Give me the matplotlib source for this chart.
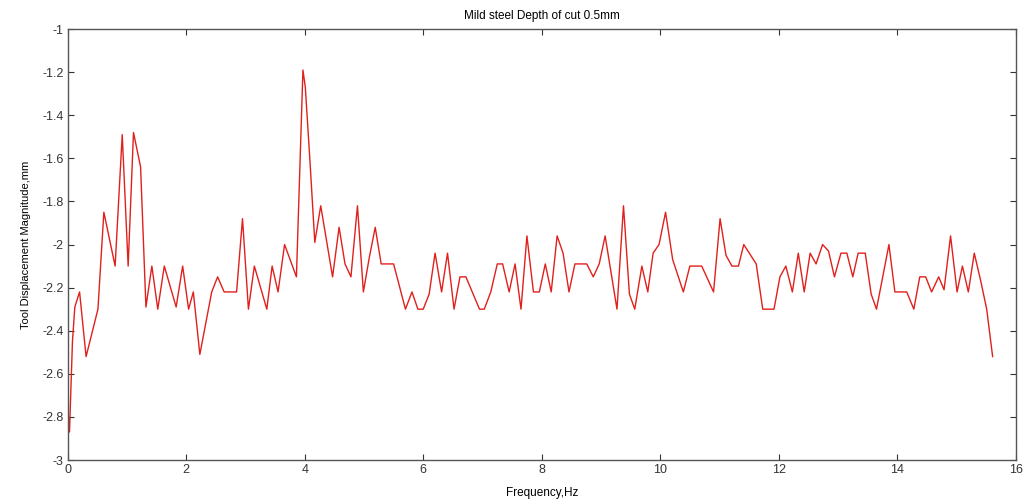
import matplotlib
matplotlib.use("Agg")
import matplotlib.pyplot as plt
from matplotlib.ticker import FuncFormatter

# spectrum vertices (frequency in Hz, magnitude in mm)
freq = [
    0.00, 0.03, 0.08, 0.12, 0.20, 0.31, 0.51, 0.61, 0.80, 0.92, 1.02, 1.11,
    1.23, 1.32, 1.42, 1.52, 1.63, 1.83, 1.94, 2.04, 2.12, 2.23, 2.43, 2.53,
    2.64, 2.85, 2.95, 3.05, 3.15, 3.36, 3.45, 3.55, 3.66, 3.86, 3.97, 4.01,
    4.09, 4.17, 4.27, 4.47, 4.58, 4.68, 4.78, 4.89, 4.99, 5.09, 5.19, 5.29,
    5.50, 5.70, 5.81, 5.91, 6.00, 6.10, 6.20, 6.31, 6.41, 6.52, 6.62, 6.72,
    6.95, 7.03, 7.14, 7.25, 7.34, 7.45, 7.55, 7.65, 7.75, 7.86, 7.96, 8.06,
    8.16, 8.26, 8.36, 8.46, 8.56, 8.76, 8.87, 8.97, 9.07, 9.27, 9.38, 9.48,
    9.57, 9.69, 9.79, 9.88, 9.98, 10.09, 10.21, 10.39, 10.50, 10.70, 10.90,
    11.01, 11.11, 11.21, 11.32, 11.41, 11.62, 11.73, 11.92, 12.02, 12.12,
    12.23, 12.33, 12.43, 12.53, 12.63, 12.74, 12.84, 12.94, 13.05, 13.15,
    13.25, 13.34, 13.46, 13.56, 13.65, 13.86, 13.96, 14.16, 14.28, 14.38,
    14.48, 14.58, 14.70, 14.79, 14.90, 15.01, 15.10, 15.20, 15.30, 15.41,
    15.51, 15.61,
]
magnitude = [
    -2.75, -2.87, -2.45, -2.29, -2.22, -2.52, -2.30, -1.85, -2.10, -1.49, -2.10, -1.48,
    -1.64, -2.29, -2.10, -2.30, -2.10, -2.29, -2.10, -2.30, -2.22, -2.51, -2.22, -2.15,
    -2.22, -2.22, -1.88, -2.30, -2.10, -2.30, -2.10, -2.22, -2.00, -2.15, -1.19, -1.27,
    -1.62, -1.99, -1.82, -2.15, -1.92, -2.09, -2.15, -1.82, -2.22, -2.06, -1.92, -2.09,
    -2.09, -2.30, -2.22, -2.30, -2.30, -2.23, -2.04, -2.22, -2.04, -2.30, -2.15, -2.15,
    -2.30, -2.30, -2.22, -2.09, -2.09, -2.22, -2.09, -2.30, -1.96, -2.22, -2.22, -2.09,
    -2.22, -1.96, -2.04, -2.22, -2.09, -2.09, -2.15, -2.09, -1.96, -2.30, -1.82, -2.23,
    -2.30, -2.10, -2.22, -2.04, -2.00, -1.85, -2.07, -2.22, -2.10, -2.10, -2.22,
    -1.88, -2.05, -2.10, -2.10, -2.00, -2.09, -2.30, -2.30, -2.15, -2.10,
    -2.22, -2.04, -2.22, -2.04, -2.09, -2.00, -2.03, -2.15, -2.04, -2.04,
    -2.15, -2.04, -2.04, -2.23, -2.30, -2.00, -2.22, -2.22, -2.30, -2.15,
    -2.15, -2.22, -2.15, -2.21, -1.96, -2.22, -2.10, -2.22, -2.04, -2.17,
    -2.30, -2.52,
]

x_ticks = list(range(0, 17, 2))
y_ticks = [-3, -2.8, -2.6, -2.4, -2.2, -2, -1.8, -1.6, -1.4, -1.2, -1]

plt.rcParams["font.family"] = ["Liberation Sans", "DejaVu Sans"]

fig = plt.figure(figsize=(10.26, 5.04), dpi=100)
ax = fig.add_axes([0.066, 0.0873, 0.924, 0.855])

ax.plot(freq, magnitude, color="#e0201c", lw=1.0)

ax.set_xlim(0, 16)
ax.set_ylim(-3, -1)
ax.set_xticks(x_ticks)
ax.set_yticks(y_ticks)
ax.yaxis.set_major_formatter(FuncFormatter(lambda v, p: f"{v:g}"))
ax.tick_params(direction="in", length=4, width=0.8, labelsize=9,
               top=True, right=True, colors="#333333", pad=3)
for s in ax.spines.values():
    s.set_color("#555555")
    s.set_linewidth(1.0)

ax.set_title("Mild steel Depth of cut 0.5mm", fontsize=8.5, pad=7)
ax.set_xlabel("Frequency,Hz", fontsize=8.5, labelpad=8)
ax.set_ylabel("Tool Displacement Magnitude,mm", fontsize=8, labelpad=8)

fig.savefig("out.png", dpi=100)
